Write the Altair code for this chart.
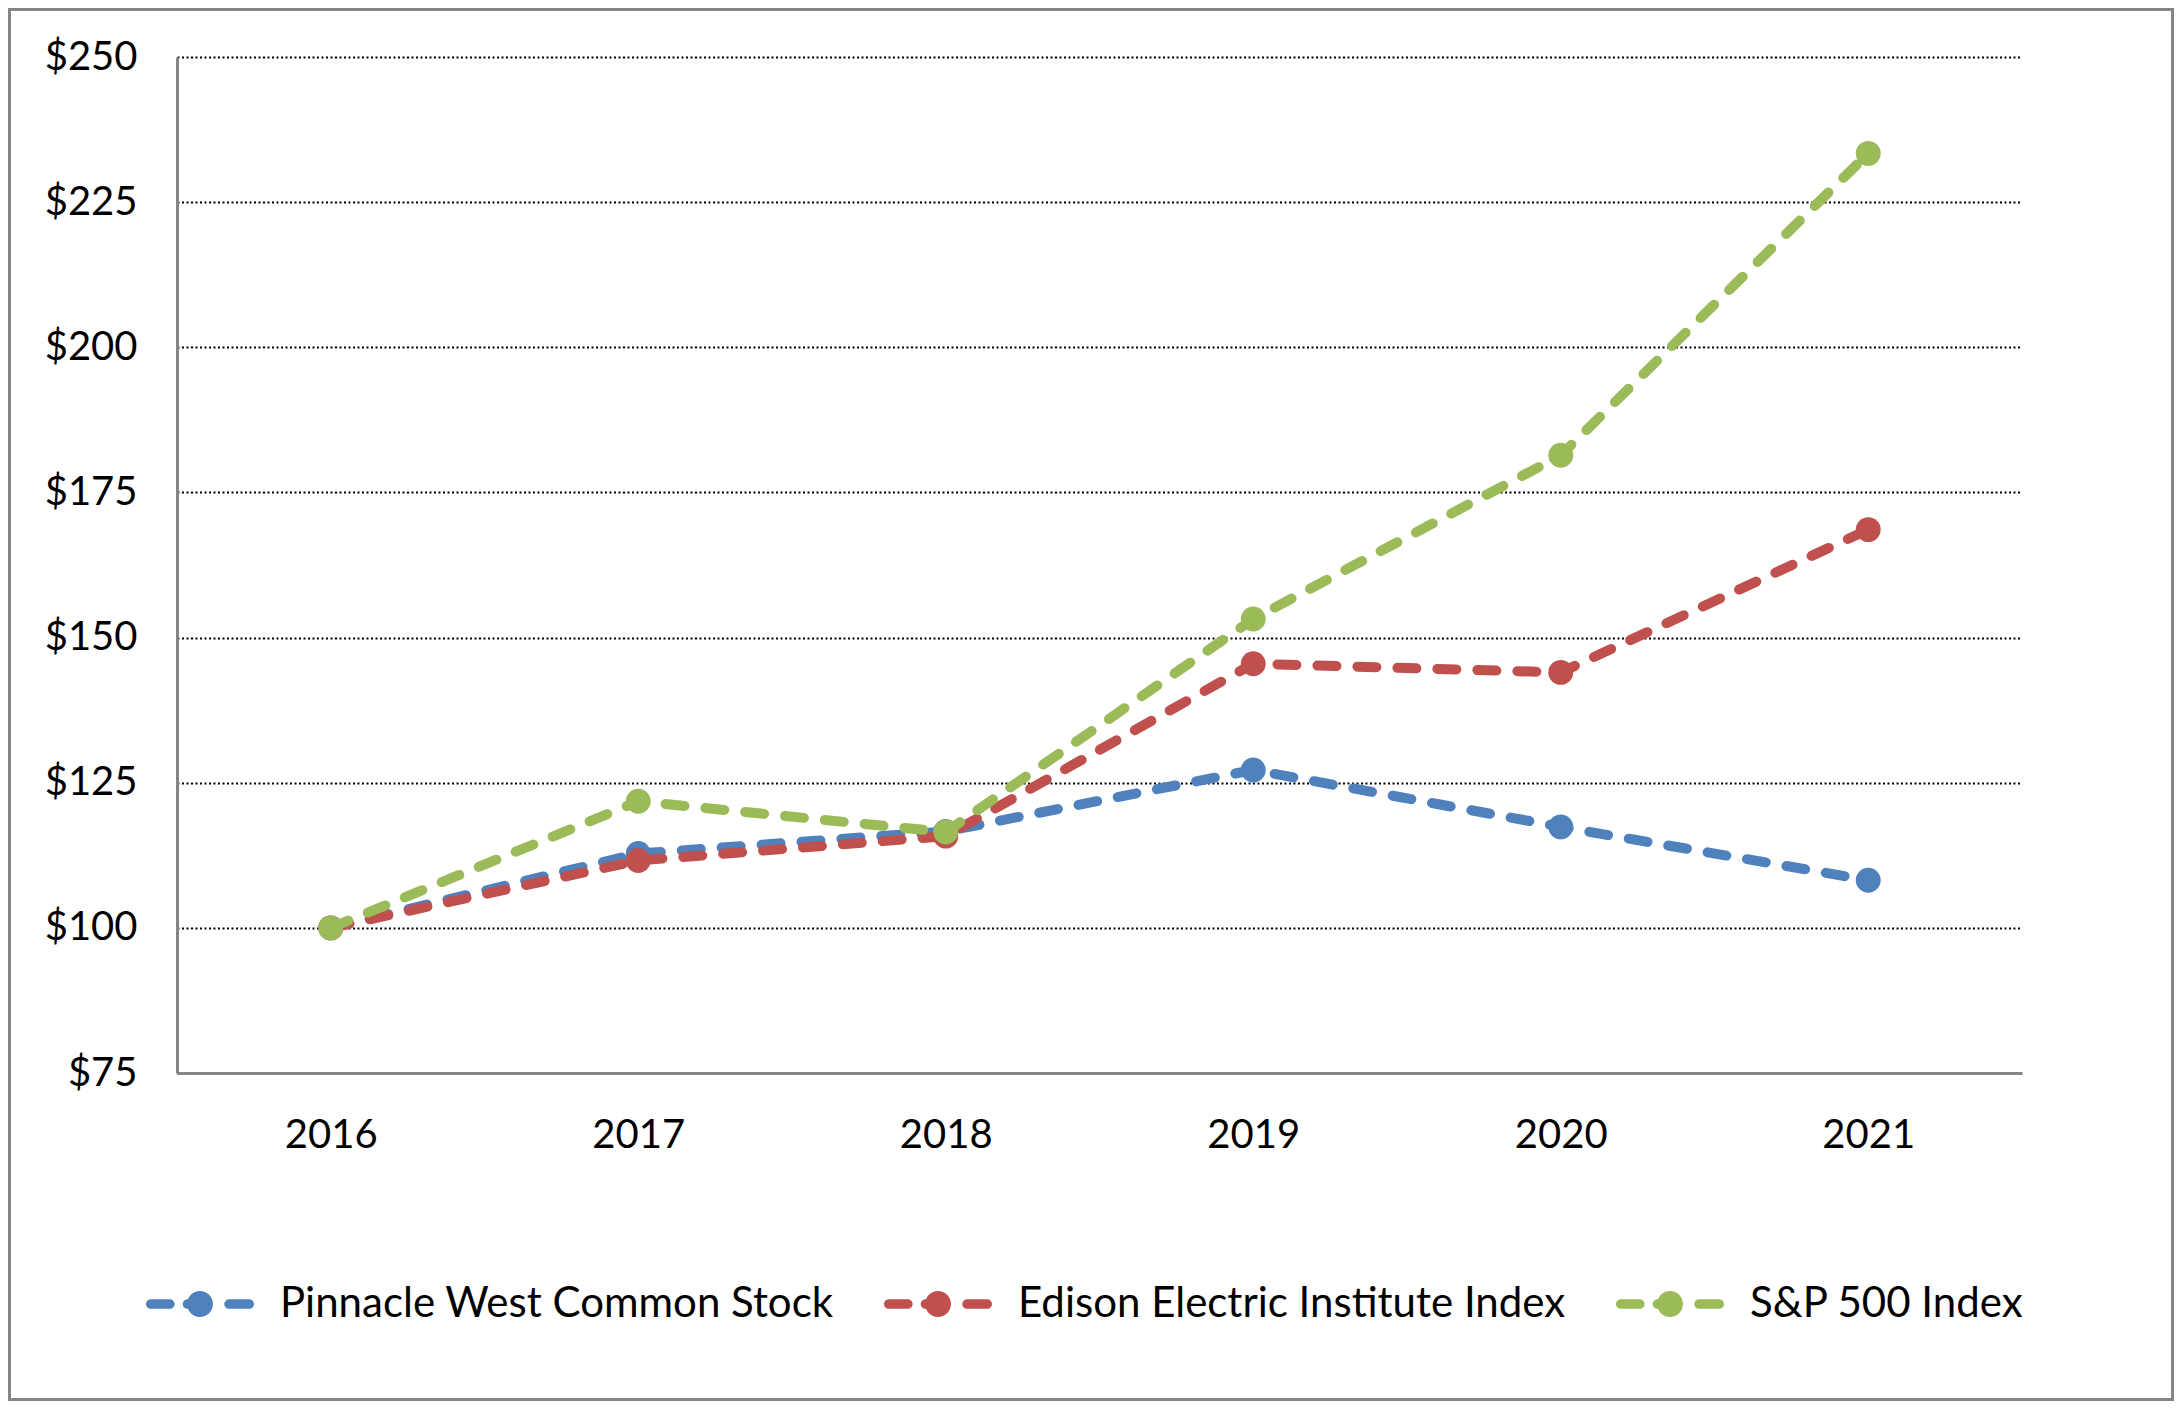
import altair as alt
import pandas as pd

# ---- data ----
years = [2016, 2017, 2018, 2019, 2020, 2021]
series_names = ["Pinnacle West Common Stock", "Edison Electric Institute Index", "S&P 500 Index"]
pinnacle = [100, 112.8, 116.6, 127.2, 117.4, 108.2]
eei = [100, 111.6, 115.8, 145.5, 144.0, 168.6]
sp500 = [100, 121.8, 116.5, 153.2, 181.4, 233.4]
series_colors = ["#4F81BD", "#C0504D", "#9BBB59"]
y_ticks = [75, 100, 125, 150, 175, 200, 225, 250]

rows = []
for order, (name, vals) in enumerate(zip(series_names, [pinnacle, eei, sp500])):
    for yr, v in zip(years, vals):
        rows.append({"year": yr, "value": v, "series": name, "order": order})
df = pd.DataFrame(rows)

FONT = "Lato"

# legend symbol: dash - circle - dash (unit box [-1, 1])
h = 0.09
def capsule(x0, x1):
    a, b = x0 + h, x1 - h
    return (f"M{a},{-h} L{b},{-h} A{h},{h} 0 0 1 {b},{h} "
            f"L{a},{h} A{h},{h} 0 0 1 {a},{-h} Z ")
r = 0.24
circle = f"M{-r},0 A{r},{r} 0 1 1 {r},0 A{r},{r} 0 1 1 {-r},0 Z"
legend_path = capsule(-1.0, -0.47) + capsule(-0.32, 0.0) + circle + " " + capsule(0.45, 1.0)

legend = alt.Legend(
    title=None,
    orient="none",
    direction="horizontal",
    legendX=-31,
    legendY=1193,
    symbolType=legend_path,
    symbolSize=11664,
    symbolStrokeWidth=0,
    symbolOpacity=1,
    labelFont=FONT,
    labelFontSize=42,
    labelColor="black",
    labelLimit=0,
    labelOffset=26,
    columnPadding=50,
    padding=0,
)

color = alt.Color(
    "series:N",
    scale=alt.Scale(domain=series_names, range=series_colors),
    sort=series_names,
    legend=legend,
)

x = alt.X(
    "year:Q",
    scale=alt.Scale(domain=[2015.5, 2021.5], nice=False, zero=False),
    axis=alt.Axis(
        values=years, format="d", title=None, grid=False, ticks=False,
        domainColor="#868686", domainWidth=3,
        labelFont=FONT, labelFontSize=40, labelColor="black",
        labelPadding=42, labelFlush=False,
    ),
)
y = alt.Y(
    "value:Q",
    scale=alt.Scale(domain=[75, 250], nice=False, zero=False),
    axis=alt.Axis(
        values=y_ticks, format="$.0f", title=None, ticks=False,
        grid=True, gridColor="black", gridDash=[2, 2.5], gridWidth=2.2,
        domainColor="#868686", domainWidth=3,
        labelFont=FONT, labelFontSize=40, labelColor="black",
        labelPadding=40,
    ),
)

base = alt.Chart(df)

points = base.mark_point(filled=True, size=620, opacity=1).encode(
    x=x, y=y, color=color
)
lines = base.mark_line(
    strokeWidth=10, strokeDash=[19, 21], strokeCap="round", strokeJoin="round"
).encode(x=x, y=y, color=color, detail="series:N", order="year:Q")

frame = alt.Chart(pd.DataFrame({"k": [0]})).mark_rect(
    fill=None, stroke="#868686", strokeWidth=3
).encode(
    x=alt.value(-167.5), x2=alt.value(1995.5),
    y=alt.value(-47.5), y2=alt.value(1342.5),
)

chart = alt.layer(
    points.transform_filter(alt.datum.order == 0),
    lines.transform_filter(alt.datum.order == 0),
    lines.transform_filter(alt.datum.order == 1),
    points.transform_filter(alt.datum.order == 1),
    lines.transform_filter(alt.datum.order == 2),
    points.transform_filter(alt.datum.order == 2),
    frame,
).properties(
    width=1845,
    height=1016,
    padding={"left": 169, "top": 49, "right": 152, "bottom": 328},
    autosize=alt.AutoSizeParams(type="none"),
    background="white",
).configure_view(stroke=None)

chart.save("out.html", embed_options={"renderer": "svg", "actions": False})
